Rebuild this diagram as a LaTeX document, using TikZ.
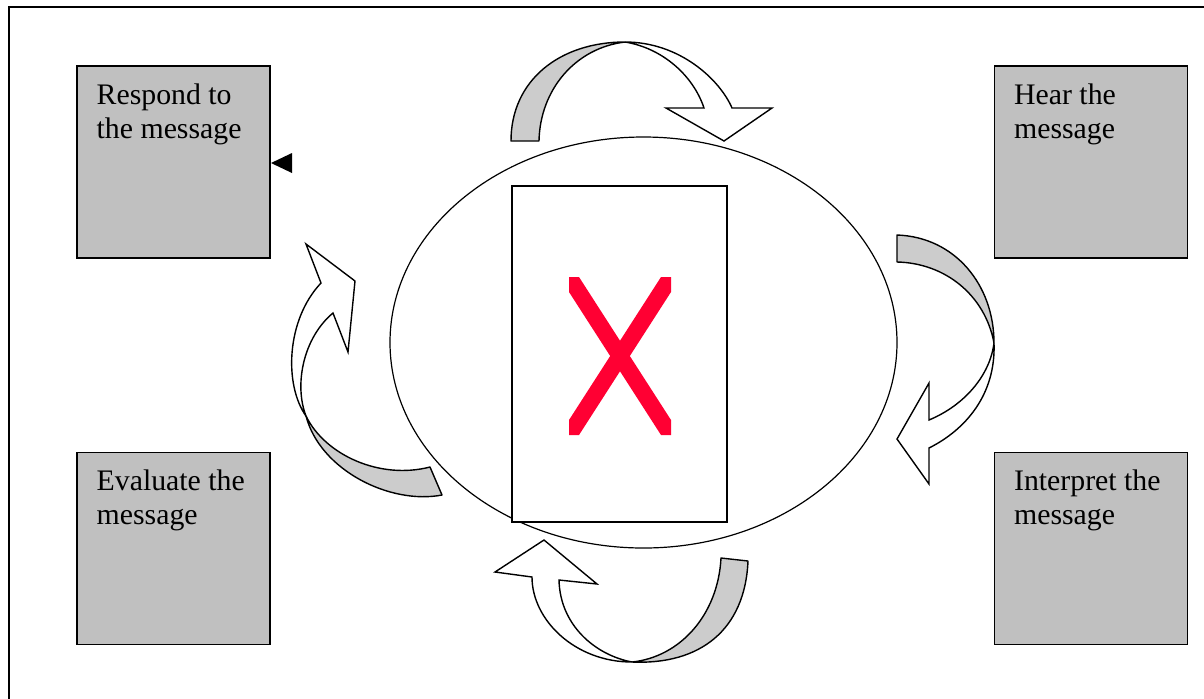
\documentclass[tikz,border=0pt]{standalone}
\usepackage{fontspec}
\setmainfont{Liberation Serif}
\usetikzlibrary{positioning,shapes.geometric}
\definecolor{boxgray}{HTML}{C0C0C0}
\definecolor{bandgray}{HTML}{CCCCCC}
\definecolor{xred}{HTML}{FF0033}

\begin{document}
\begin{tikzpicture}[
  x=0.5pt,y=-0.5pt,
  stagebox/.style={draw,line width=0.7pt,fill=boxgray,minimum width=96.5pt,minimum height=96pt,inner sep=0pt},
  stagetext/.style={font=\fontsize{14.9pt}{17pt}\selectfont,align=left,inner sep=0pt},
  band/.style={draw,line width=0.7pt,fill=bandgray,line join=round},
  turn/.style={draw,line width=0.7pt,fill=white,line join=miter}
]
\useasboundingbox (0,0) rectangle (1204,698);
\clip (0,0) rectangle (1204,698);
\draw[line width=1pt] (8.5,720) |- (1230,6.5);

\node[stagebox] (respond) at (173.5,162) {};
\node[stagebox,right=361.5pt of respond] (hear) {};
\node[stagebox,below=96.5pt of respond] (evaluate) {};
\node[stagebox,below=96.5pt of hear] (interpret) {};

\node[draw,ellipse,line width=0.6pt,minimum width=253.5pt,minimum height=205.5pt,inner sep=0pt] (ring) at (643.5,342.5) {};
\node[draw,fill=white,line width=0.7pt,minimum width=107.5pt,minimum height=168pt,inner sep=0pt] (picframe) at (619.5,354) {};

\fill[xred] (569,277) -- (579,277) -- (671,420) -- (671,435) -- (661,435) -- (569,292) -- cycle;
\fill[xred] (671,277) -- (661,277) -- (569,420) -- (569,435) -- (579,435) -- (671,292) -- cycle;

\draw[band] (511,141) .. controls (511,80) and (560,42) .. (625,42) .. controls (575,48) and (540,90) .. (539,141) -- cycle;
\draw[turn] (625,42) .. controls (680,42) and (720,80) .. (732,108) -- (772,108) -- (724,141) -- (666,108) -- (704,108) .. controls (693,75) and (662,48) .. (625,42) -- cycle;

\draw[band] (897,235) .. controls (955,237) and (994,285) .. (994,343) .. controls (985,295) and (945,263) .. (897,262) -- cycle;
\draw[turn] (994,343) .. controls (996,395) and (965,430) .. (929,448) -- (929,484) -- (897,439) -- (929,383) -- (929,420) .. controls (965,405) and (990,375) .. (994,343) -- cycle;

\draw[band] (748,561) .. controls (745,630) and (700,665) .. (632,662) .. controls (680,657) and (718,615) .. (721,558) -- cycle;
\draw[turn] (632,662) .. controls (575,662) and (532,620) .. (532,577) -- (495,572) -- (544,540) -- (597,584) -- (559,580) .. controls (560,625) and (595,655) .. (632,662) -- cycle;

\draw[band] (442,495) .. controls (390,505) and (320,470) .. (306,416) .. controls (325,455) and (380,480) .. (430,467) -- cycle;
\draw[turn] (306,416) .. controls (284,385) and (286,320) .. (321,283) -- (306,244) -- (355,281) -- (348,352) -- (333,313) .. controls (303,338) and (294,385) .. (306,416) -- cycle;

\fill (271,163) -- (292,153) -- (292,173) -- cycle;

\node[stagetext,below right=9pt and 10pt of respond.north west] (respondtext) {Respond to\\the message};
\node[stagetext,below right=9pt and 10pt of hear.north west] (heartext) {Hear the\\message};
\node[stagetext,below right=9pt and 10pt of evaluate.north west] (evaluatetext) {Evaluate the\\message};
\node[stagetext,below right=9pt and 10pt of interpret.north west] (interprettext) {Interpret the\\message};
\end{tikzpicture}
\end{document}
